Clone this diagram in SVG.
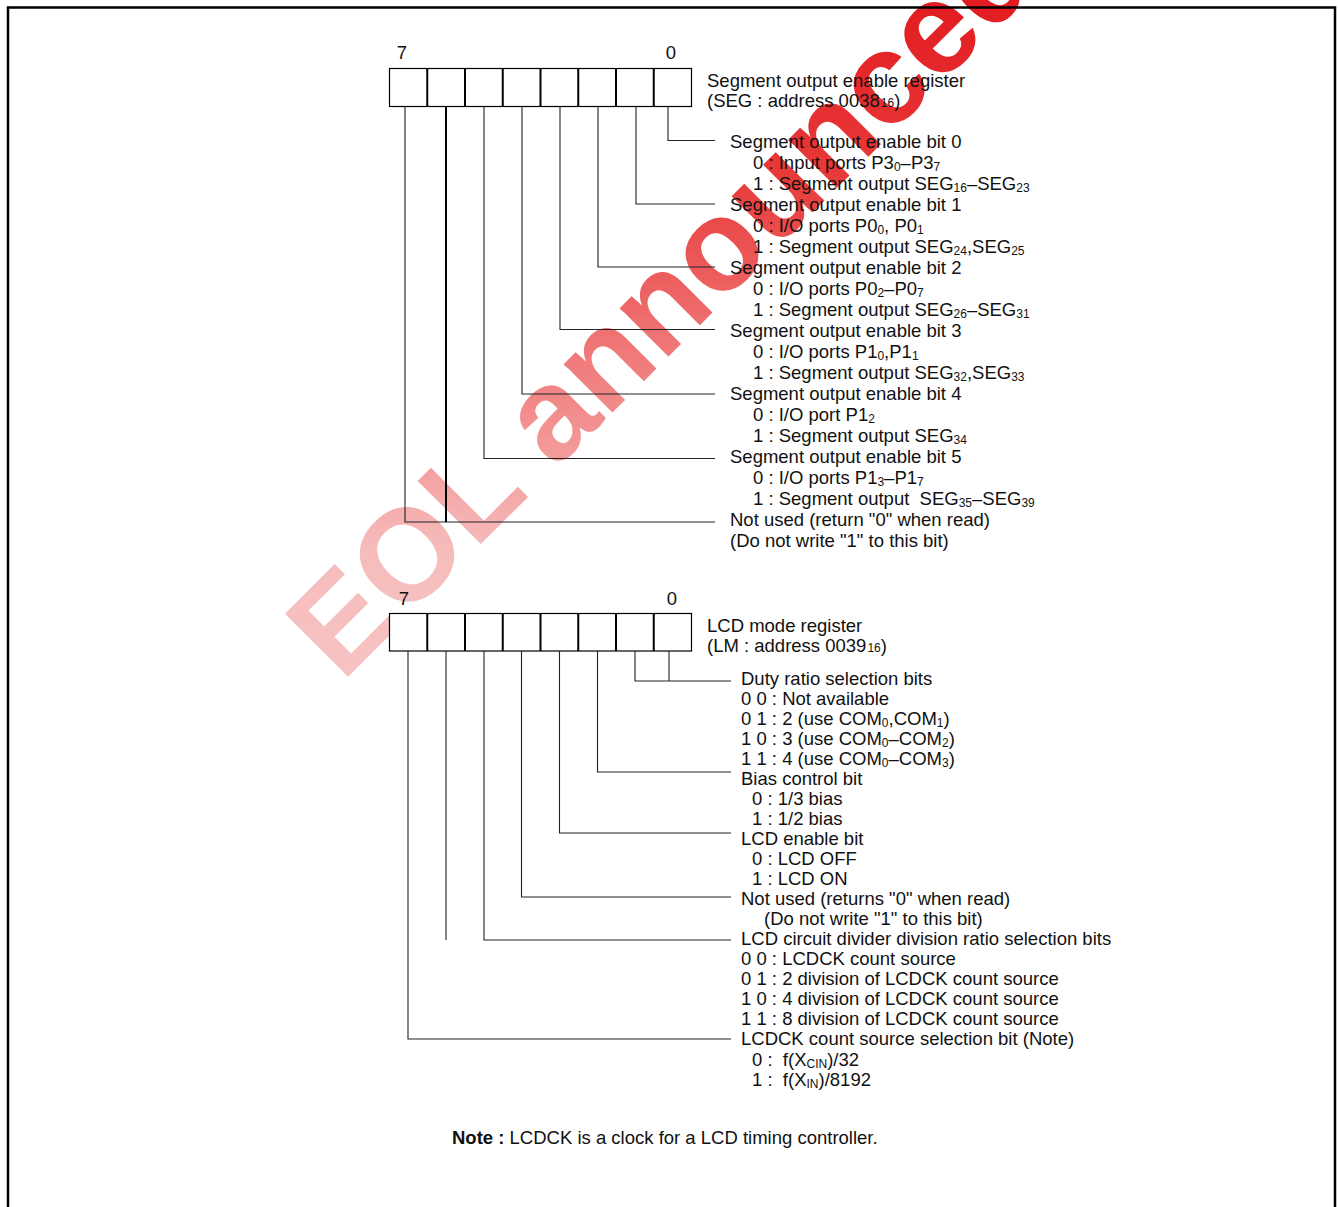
<svg xmlns="http://www.w3.org/2000/svg" width="1338" height="1207" viewBox="0 0 1338 1207">
<style>
text{font-family:"Liberation Sans",Arial,sans-serif;font-size:18.5px;fill:#111;white-space:pre}
.s{font-size:12px}
.b{font-weight:bold}
text.wm{font-family:"Liberation Sans",Arial,sans-serif;font-weight:bold;font-size:130px;fill:url(#wmg)}
.reg{fill:#fff;stroke:#000;stroke-width:1.2}
.div{stroke:#000;stroke-width:2}
.con{fill:none;stroke:#222;stroke-width:1.1}
.thick{fill:none;stroke:#000;stroke-width:2}
</style>
<defs>
<linearGradient id="wmg" gradientUnits="userSpaceOnUse" x1="340" y1="680" x2="1000" y2="20">
<stop offset="0" stop-color="#f9cfcf"/>
<stop offset="0.4" stop-color="#f6bcbc"/>
<stop offset="0.6" stop-color="#f07c7c"/>
<stop offset="0.8" stop-color="#e83a3a"/>
<stop offset="1" stop-color="#e21a1f"/>
</linearGradient>
</defs>
<rect width="1338" height="1207" fill="#fff"/>
<text class="wm" transform="translate(342,683) rotate(-45)">EOL announced</text>
<path d="M8,1207 V7.5 H1335 V1207" fill="none" stroke="#000" stroke-width="2.5"/>

<g id="seg-register">
<text x="402" y="58.5" text-anchor="middle">7</text>
<text x="671" y="58.5" text-anchor="middle">0</text>
<rect class="reg" x="389.5" y="68.5" width="302" height="38"/>
<path class="div" d="M427.25,68.5V106.5M465,68.5V106.5M502.75,68.5V106.5M540.5,68.5V106.5M578.25,68.5V106.5M616,68.5V106.5M653.75,68.5V106.5"/>
<text x="707" y="87">Segment output enable register</text>
<text x="707" y="107">(SEG : address 0038<tspan class="s" dx="1">16</tspan>)</text>
</g>

<g id="seg-connectors">
<path class="con" d="M668,106.5V140.5H715"/>
<path class="con" d="M636,106.5V204H715"/>
<path class="con" d="M598,106.5V267H715"/>
<path class="con" d="M560,106.5V329.5H715"/>
<path class="con" d="M522,106.5V394H715"/>
<path class="con" d="M484,106.5V458.5H715"/>
<path class="con" d="M405,106.5V522H715"/>
<path class="thick" d="M446,106.5V522"/>
</g>

<g id="seg-bit0">
<text x="730" y="148">Segment output enable bit 0</text>
<text x="753" y="169">0 : Input ports P3<tspan class="s" dy="2">0</tspan><tspan dy="-2">–P3</tspan><tspan class="s" dy="2">7</tspan></text>
<text x="753" y="190">1 : Segment output SEG<tspan class="s" dy="2">16</tspan><tspan dy="-2">–SEG</tspan><tspan class="s" dy="2">23</tspan></text>
</g>
<g id="seg-bit1">
<text x="730" y="211">Segment output enable bit 1</text>
<text x="753" y="232">0 : I/O ports P0<tspan class="s" dy="2">0</tspan><tspan dy="-2">, P0</tspan><tspan class="s" dy="2">1</tspan></text>
<text x="753" y="253">1 : Segment output SEG<tspan class="s" dy="2">24</tspan><tspan dy="-2">,SEG</tspan><tspan class="s" dy="2">25</tspan></text>
</g>
<g id="seg-bit2">
<text x="730" y="274">Segment output enable bit 2</text>
<text x="753" y="295">0 : I/O ports P0<tspan class="s" dy="2">2</tspan><tspan dy="-2">–P0</tspan><tspan class="s" dy="2">7</tspan></text>
<text x="753" y="316">1 : Segment output SEG<tspan class="s" dy="2">26</tspan><tspan dy="-2">–SEG</tspan><tspan class="s" dy="2">31</tspan></text>
</g>
<g id="seg-bit3">
<text x="730" y="337">Segment output enable bit 3</text>
<text x="753" y="358">0 : I/O ports P1<tspan class="s" dy="2">0</tspan><tspan dy="-2">,P1</tspan><tspan class="s" dy="2">1</tspan></text>
<text x="753" y="379">1 : Segment output SEG<tspan class="s" dy="2">32</tspan><tspan dy="-2">,SEG</tspan><tspan class="s" dy="2">33</tspan></text>
</g>
<g id="seg-bit4">
<text x="730" y="400">Segment output enable bit 4</text>
<text x="753" y="421">0 : I/O port P1<tspan class="s" dy="2">2</tspan></text>
<text x="753" y="442">1 : Segment output SEG<tspan class="s" dy="2">34</tspan></text>
</g>
<g id="seg-bit5">
<text x="730" y="463">Segment output enable bit 5</text>
<text x="753" y="484">0 : I/O ports P1<tspan class="s" dy="2">3</tspan><tspan dy="-2">–P1</tspan><tspan class="s" dy="2">7</tspan></text>
<text x="753" y="505">1 : Segment output  SEG<tspan class="s" dy="2">35</tspan><tspan dy="-2">–SEG</tspan><tspan class="s" dy="2">39</tspan></text>
</g>
<g id="seg-bit67">
<text x="730" y="526">Not used (return "0" when read)</text>
<text x="730" y="547">(Do not write "1" to this bit)</text>
</g>

<g id="lm-register">
<text x="404" y="604.5" text-anchor="middle">7</text>
<text x="672" y="604.5" text-anchor="middle">0</text>
<rect class="reg" x="389.5" y="613.5" width="302" height="37.5"/>
<path class="div" d="M427.25,613.5V651M465,613.5V651M502.75,613.5V651M540.5,613.5V651M578.25,613.5V651M616,613.5V651M653.75,613.5V651"/>
<text x="707" y="631.5">LCD mode register</text>
<text x="707" y="651.5">(LM : address 0039<tspan class="s" dx="1">16</tspan>)</text>
</g>

<g id="lm-connectors">
<path class="con" d="M669,651V681"/>
<path class="con" d="M635,651V681H731"/>
<path class="con" d="M597.5,651V772H731"/>
<path class="con" d="M559.5,651V833H731"/>
<path class="con" d="M521.5,651V897H731"/>
<path class="con" d="M484,651V940H731"/>
<path class="con" d="M446,651V940"/>
<path class="con" d="M408,651V1039H731"/>
</g>

<g id="lm-duty">
<text x="741" y="684.5">Duty ratio selection bits</text>
<text x="741" y="704.5">0 0 : Not available</text>
<text x="741" y="724.6">0 1 : 2 (use COM<tspan class="s" dy="2">0</tspan><tspan dy="-2">,COM</tspan><tspan class="s" dy="2">1</tspan><tspan dy="-2">)</tspan></text>
<text x="741" y="744.7">1 0 : 3 (use COM<tspan class="s" dy="2">0</tspan><tspan dy="-2">–COM</tspan><tspan class="s" dy="2">2</tspan><tspan dy="-2">)</tspan></text>
<text x="741" y="764.7">1 1 : 4 (use COM<tspan class="s" dy="2">0</tspan><tspan dy="-2">–COM</tspan><tspan class="s" dy="2">3</tspan><tspan dy="-2">)</tspan></text>
</g>
<g id="lm-bias">
<text x="741" y="784.8">Bias control bit</text>
<text x="752" y="804.8">0 : 1/3 bias</text>
<text x="752" y="824.9">1 : 1/2 bias</text>
</g>
<g id="lm-enable">
<text x="741" y="844.9">LCD enable bit</text>
<text x="752" y="865">0 : LCD OFF</text>
<text x="752" y="885">1 : LCD ON</text>
</g>
<g id="lm-bit4">
<text x="741" y="905">Not used (returns "0" when read)</text>
<text x="764" y="925">(Do not write "1" to this bit)</text>
</g>
<g id="lm-divider">
<text x="741" y="945.2">LCD circuit divider division ratio selection bits</text>
<text x="741" y="965.2">0 0 : LCDCK count source</text>
<text x="741" y="985.3">0 1 : 2 division of LCDCK count source</text>
<text x="741" y="1005.3">1 0 : 4 division of LCDCK count source</text>
<text x="741" y="1025.4">1 1 : 8 division of LCDCK count source</text>
</g>
<g id="lm-source">
<text x="741" y="1045.4">LCDCK count source selection bit (Note)</text>
<text x="752" y="1065.5">0 :  f(X<tspan class="s" dy="2">CIN</tspan><tspan dy="-2">)/32</tspan></text>
<text x="752" y="1085.5">1 :  f(X<tspan class="s" dy="2">IN</tspan><tspan dy="-2">)/8192</tspan></text>
</g>

<g id="note">
<text x="452" y="1144"><tspan class="b">Note :</tspan> LCDCK is a clock for a LCD timing controller.</text>
</g>
</svg>
